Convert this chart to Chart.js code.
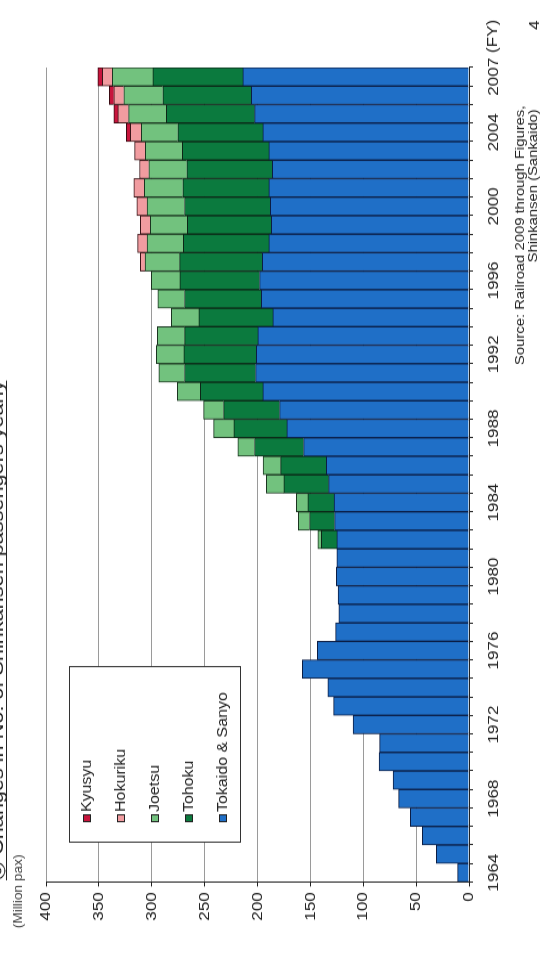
<!DOCTYPE html>
<html>
<head>
<meta charset="utf-8">
<script src="https://cdn.jsdelivr.net/npm/chart.js@4/dist/chart.umd.min.js"></script>
<style>
  html, body { margin: 0; padding: 0; background: #fff; overflow: hidden; width: 549px; height: 967px; }
  /* the slide is laid out landscape and turned a quarter-turn counter-clockwise */
  #page { position: absolute; left: 0; top: 0; width: 848px; height: 549px;
          transform-origin: 0 0; transform: translate(0, 967px) rotate(-90deg) scale(1.14, 1); }
</style>
</head>
<body>
<div id="page"><canvas id="c" width="848" height="549"></canvas></div>
<script>
// Fiscal years
const years = ['1964','1965','1966','1967','1968','1969','1970','1971','1972','1973','1974',
  '1975','1976','1977','1978','1979','1980','1981','1982','1983','1984','1985','1986','1987',
  '1988','1989','1990','1991','1992','1993','1994','1995','1996','1997','1998','1999','2000',
  '2001','2002','2003','2004','2005','2006','2007'];

// Labelled years on the category axis
const shownYears = ['1964','1968','1972','1976','1980','1984','1988','1992','1996','2000','2004','2007'];

// Value axis ticks (million passengers)
const valueTicks = [0, 50, 100, 150, 200, 250, 300, 350, 400];

// Passengers per line, million per fiscal year
const tokaidoSanyo = [10.8, 30.8, 44.1, 55.5, 66.5, 71.9, 85.1, 84.5, 109.7, 128.0, 133.4,
  157.6, 143.4, 126.1, 123.0, 123.9, 125.5, 125.0, 124.9, 127.1, 127.7, 132.7, 134.9, 156.4,
  172.2, 179.1, 194.9, 201.8, 201.1, 199.6, 185.4, 196.4, 198.0, 195.5, 189.2, 186.9, 187.9,
  189.2, 186.0, 189.2, 194.9, 202.7, 205.9, 213.8];

const tohoku = [null, null, null, null, null, null, null, null, null, null, null,
  null, null, null, null, null, null, null, 14.8, 23.7, 24.6, 42.3, 43.2, 46.4,
  50.1, 53.0, 59.2, 67.2, 68.5, 69.3, 70.0, 72.6, 75.4, 78.1, 81.0, 79.5, 81.1,
  81.4, 80.8, 81.9, 80.4, 83.5, 83.6, 85.1];

const joetsu = [null, null, null, null, null, null, null, null, null, null, null,
  null, null, null, null, null, null, null, 3.2, 10.7, 11.0, 16.7, 16.7, 15.8,
  19.2, 18.9, 21.8, 24.3, 26.1, 25.8, 26.1, 25.3, 27.1, 32.8, 34.3, 35.0, 35.3,
  36.3, 36.0, 35.0, 34.6, 35.7, 36.9, 38.4];

const hokuriku = [null, null, null, null, null, null, null, null, null, null, null,
  null, null, null, null, null, null, null, null, null, null, null, null, null,
  null, null, null, null, null, null, null, null, null, 4.4, 8.9, 9.5, 9.8,
  10.1, 8.8, 10.1, 10.4, 10.1, 9.5, 9.5];

const kyusyu = [null, null, null, null, null, null, null, null, null, null, null,
  null, null, null, null, null, null, null, null, null, null, null, null, null,
  null, null, null, null, null, null, null, null, null, null, null, null, null,
  null, null, null, 3.8, 3.8, 4.1, 4.2];

const FONT = '"Liberation Sans", Arial, sans-serif';
const INK = '#222';

// Title, unit, source, page number and the boxed legend
const decor = {
  id: 'decor',
  afterDraw(chart) {
    const ctx = chart.ctx;
    const xs = chart.scales.x;
    ctx.save();
    ctx.fillStyle = INK;
    ctx.strokeStyle = INK;

    // title along the top edge, underlined
    const title = '◎ Changes in No. of Shinkansen passengers yearly';
    ctx.font = '19px ' + FONT;
    ctx.textAlign = 'left';
    ctx.textBaseline = 'alphabetic';
    ctx.fillText(title, 76, 3);
    const tw = ctx.measureText(title).width;
    ctx.lineWidth = 1.2;
    ctx.beginPath();
    ctx.moveTo(76, 6.5);
    ctx.lineTo(76 + tw, 6.5);
    ctx.stroke();

    // unit
    ctx.font = '12px ' + FONT;
    ctx.textBaseline = 'middle';
    ctx.fillStyle = '#444';
    ctx.fillText('(Million pax)', 34, 19);

    // fiscal-year marker after the last category label
    ctx.fillStyle = INK;
    ctx.font = '15px ' + FONT;
    ctx.textBaseline = 'top';
    const lastX = xs.getPixelForValue(years.length - 1);
    const lw = ctx.measureText(years[years.length - 1]).width;
    ctx.fillText('(FY)', lastX + lw / 2 + ctx.measureText(' ').width, xs.top + 4 + 12);

    // source
    ctx.font = '13px ' + FONT;
    ctx.textBaseline = 'middle';
    ctx.fillText('Source: Railroad 2009 through Figures,', 528, 520);
    ctx.fillText('Shinkansen (Sankaido)', 618, 533);

    // page number
    ctx.font = '15px ' + FONT;
    ctx.fillText('4', 822, 535);

    // legend box
    const bx = 109, by = 69, bw = 154, bh = 171;
    ctx.fillStyle = '#fff';
    ctx.fillRect(bx, by, bw, bh);
    ctx.lineWidth = 1;
    ctx.strokeStyle = '#333';
    ctx.strokeRect(bx + 0.5, by + 0.5, bw, bh);
    const items = chart.data.datasets.slice().reverse();
    ctx.font = '14px ' + FONT;
    ctx.textBaseline = 'middle';
    items.forEach((ds, i) => {
      const cy = 87 + i * 34;
      ctx.fillStyle = ds.backgroundColor;
      ctx.fillRect(127, cy - 4, 7, 8);
      ctx.strokeStyle = '#222';
      ctx.strokeRect(127.5, cy - 3.5, 6, 7);
      ctx.fillStyle = INK;
      ctx.fillText(ds.label, 136, cy);
    });
    ctx.restore();
  }
};

new Chart(document.getElementById('c'), {
  type: 'bar',
  data: {
    labels: years,
    datasets: [
      { label: 'Tokaido & Sanyo', data: tokaidoSanyo, backgroundColor: '#1f6fc7', borderColor: '#0b1d44' },
      { label: 'Tohoku', data: tohoku, backgroundColor: '#0b7a3e', borderColor: '#0c2616' },
      { label: 'Joetsu', data: joetsu, backgroundColor: '#72c27e', borderColor: '#1b3520' },
      { label: 'Hokuriku', data: hokuriku, backgroundColor: '#f19ca0', borderColor: '#3a1518' },
      { label: 'Kyusyu', data: kyusyu, backgroundColor: '#c8143c', borderColor: '#3a0a12' }
    ]
  },
  options: {
    responsive: false,
    animation: false,
    devicePixelRatio: 1,
    layout: { padding: { left: 0, right: 59, top: 46, bottom: 0 } },
    datasets: { bar: { categoryPercentage: 1, barPercentage: 1, borderWidth: 1 } },
    plugins: { legend: { display: false }, tooltip: { enabled: false } },
    scales: {
      x: {
        stacked: true,
        grid: { offset: true, drawOnChartArea: false, tickLength: 4, tickColor: INK },
        border: { color: INK, width: 1 },
        ticks: {
          autoSkip: false, maxRotation: 0, minRotation: 0, padding: 12,
          color: INK, font: { family: FONT, size: 15 },
          callback: (v, i) => shownYears.includes(years[i]) ? years[i] : ''
        },
        afterFit: (s) => { s.height = 80; }
      },
      y: {
        stacked: true,
        min: 0, max: 400,
        afterBuildTicks: (s) => { s.ticks = valueTicks.map(v => ({ value: v })); },
        ticks: { padding: 5, color: INK, font: { family: FONT, size: 15 } },
        grid: { color: '#9a9a9a', tickColor: INK, tickLength: 4 },
        border: { color: INK, width: 1 },
        afterFit: (s) => { s.width = 74.6; }
      }
    }
  },
  plugins: [decor]
});
</script>
</body>
</html>
